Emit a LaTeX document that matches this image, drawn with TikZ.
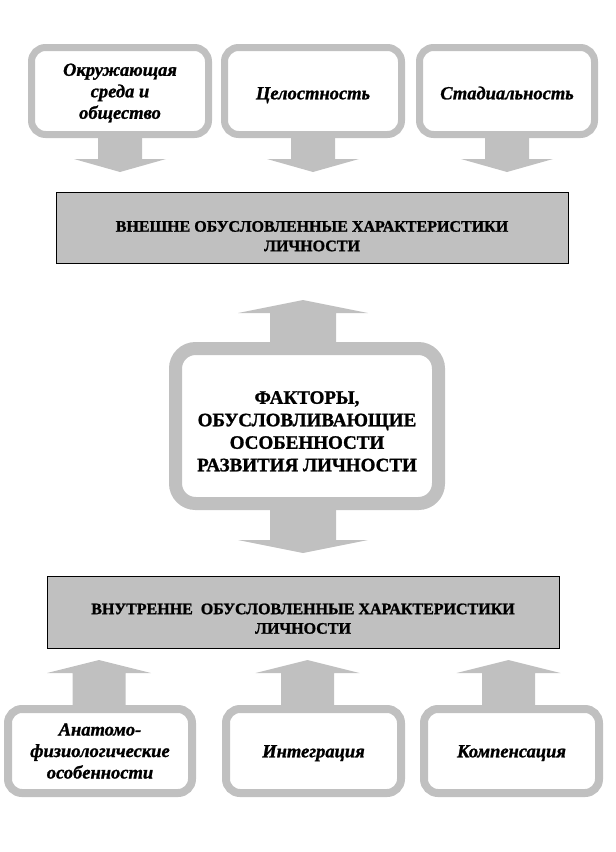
\documentclass[tikz,border=0pt]{standalone}
\usepackage{fontspec}
\setmainfont[FakeBold=1.2]{Liberation Serif}
\usetikzlibrary{calc}
\definecolor{lgrey}{HTML}{C0C0C0}
\newcommand{\blockarrow}[6]{%
  \fill[lgrey] ($(#1)+(-#3,0)$) -- ($(#1)+(-#3,#2*#5)$) -- ($(#1)+(-#4,#2*#5)$)
    -- ($(#1)+(0,#2*#5+#2*#6)$) -- ($(#1)+(#4,#2*#5)$) -- ($(#1)+(#3,#2*#5)$)
    -- ($(#1)+(#3,0)$) -- cycle;}
\newcommand{\lowered}[2]{\raisebox{-#1}[\height][\depth]{\begin{tabular}{@{}c@{}}#2\end{tabular}}}
\begin{document}
\begin{tikzpicture}[x=1pt,y=-1pt,
  rbox/.style={draw=lgrey, line width=7pt, fill=white, rounded corners=14pt,
    align=center, inner sep=0pt, minimum height=87pt,
    font=\bfseries\itshape\fontsize{18.5}{21.5}\selectfont},
  bbox/.style={rbox, line width=8pt, minimum height=84pt},
  cbox/.style={draw=lgrey, line width=13pt, fill=white, rounded corners=20pt,
    align=center, inner sep=0pt, minimum width=263pt, minimum height=155pt,
    font=\bfseries\fontsize{19}{22.5}\selectfont},
  gbox/.style={draw=black, line width=0.8pt, fill=lgrey, align=center,
    inner sep=0pt, minimum width=512pt,
    font=\bfseries\fontsize{16}{19.5}\selectfont}]
\path[use as bounding box] (0,0) rectangle (616,852);

% top row
\node[rbox, minimum width=177pt] (t1) at (120,91) {\lowered{2pt}{Окружающая\\среда и\\общество}};
\node[rbox, minimum width=177pt] (t2) at (313,91) {\lowered{4pt}{Целостность}};
\node[rbox, minimum width=175pt] (t3) at (507,91) {\lowered{4pt}{Стадиальность}};

% grey boxes
\node[gbox, minimum height=71pt] (g1) at (312,227.5) {\lowered{10pt}{ВНЕШНЕ ОБУСЛОВЛЕННЫЕ ХАРАКТЕРИСТИКИ\\ЛИЧНОСТИ}};
\node[gbox, minimum height=72pt] (g2) at (303,612) {\lowered{8pt}{ВНУТРЕННЕ\ \ ОБУСЛОВЛЕННЫЕ ХАРАКТЕРИСТИКИ\\ЛИЧНОСТИ}};

% central box
\node[cbox] (c) at (307,426) {\lowered{7pt}{ФАКТОРЫ,\\ОБУСЛОВЛИВАЮЩИЕ\\ОСОБЕННОСТИ\\РАЗВИТИЯ ЛИЧНОСТИ}};

% bottom row
\node[bbox, minimum width=184pt] (b1) at (100,751) {Анатомо-\\физиологические\\особенности};
\node[bbox, minimum width=175pt] (b2) at (313.5,751) {\lowered{2pt}{Интеграция}};
\node[bbox, minimum width=175pt] (b3) at (511.5,751) {\lowered{2pt}{Компенсация}};

% arrows: top boxes down
\blockarrow{t1.south}{1}{22}{46}{21}{13}
\blockarrow{t2.south}{1}{22}{46}{21}{13}
\blockarrow{t3.south}{1}{22}{46}{21}{13}
% central up and down
\blockarrow{$(c.north)+(-4,0)$}{-1}{33}{65}{29}{13}
\blockarrow{$(c.south)+(-4,0)$}{1}{33}{65}{30}{13}
% bottom boxes up
\blockarrow{$(b1.north)+(-1,0)$}{-1}{26.5}{52}{32}{13}
\blockarrow{$(b2.north)+(-6,0)$}{-1}{26.5}{52}{32}{13}
\blockarrow{$(b3.north)+(-3,0)$}{-1}{26.5}{52}{32}{13}
\end{tikzpicture}
\end{document}
